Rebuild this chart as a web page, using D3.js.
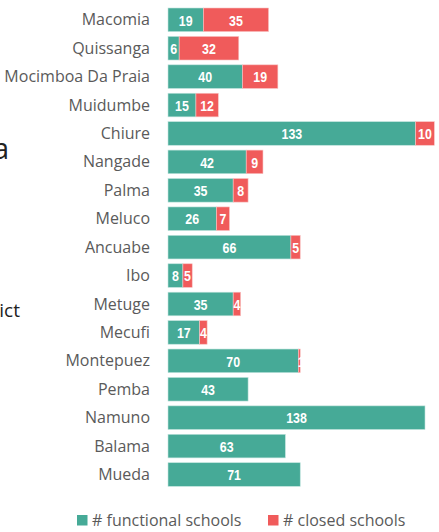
<!DOCTYPE html>
<html><head><meta charset="utf-8">
<script src="https://cdn.jsdelivr.net/npm/d3@7"></script>
<style>html,body{margin:0;padding:0;background:#fff;}svg{display:block;}</style>
</head><body>
<svg id="chart" width="439" height="532"></svg>
<script>
const districts = ["Macomia","Quissanga","Mocimboa Da Praia","Muidumbe","Chiure","Nangade","Palma","Meluco","Ancuabe","Ibo","Metuge","Mecufi","Montepuez","Pemba","Namuno","Balama","Mueda"];
const functional = [19,6,40,15,133,42,35,26,66,8,35,17,70,43,138,63,71];
const closed = [35,32,19,12,10,9,8,7,5,5,4,4,1,0,0,0,0];
const seriesNames = ["# functional schools","# closed schools"];
const colors = ["#46aa97","#f05b5b"];

const svg = d3.select("#chart");
const x = d3.scaleLinear().domain([0,138]).range([168,425]);
const y = d3.scaleBand().domain(districts).range([8,8+28.42*(17-0.17)]).paddingInner(0.17).paddingOuter(0);

const rows = districts.map((d,i)=>({d, f:functional[i], c:closed[i]}));

// cut-off title fragments at left
svg.append("text").attr("x",9).attr("y",159).attr("text-anchor","end")
  .attr("font-family","Open Sans, sans-serif").attr("font-size",29).attr("fill","#222").text("a");
svg.append("text").attr("x",20).attr("y",317).attr("text-anchor","end")
  .attr("font-family","Open Sans, sans-serif").attr("font-size",19).attr("fill","#222").text("ict");

// category labels
svg.append("g").selectAll("text").data(rows).join("text")
  .attr("x",150).attr("y",d=>y(d.d)+y.bandwidth()/2).attr("dy","0.35em")
  .attr("text-anchor","end").attr("font-family","Open Sans, sans-serif").attr("font-size",16)
  .attr("fill","#5a5a5a").text(d=>d.d);

const g = svg.append("g");
g.selectAll("rect.f").data(rows).join("rect").attr("class","f")
  .attr("x",x(0)).attr("y",d=>y(d.d)).attr("width",d=>x(d.f)-x(0)).attr("height",y.bandwidth())
  .attr("fill",colors[0]).attr("stroke","#bfe3dc").attr("stroke-width",0.6);
g.selectAll("rect.c").data(rows.filter(d=>d.c>0)).join("rect").attr("class","c")
  .attr("x",d=>x(d.f)).attr("y",d=>y(d.d)).attr("width",d=>x(d.f+d.c)-x(d.f)).attr("height",y.bandwidth())
  .attr("fill",colors[1]).attr("stroke","#f8c4c4").attr("stroke-width",0.6);

const lblFont = "Liberation Sans, Arial, sans-serif";
const sx = 0.8;
function addLabels(cls, data, cx, val){
  g.selectAll("text."+cls).data(data).join("text").attr("class",cls)
    .attr("transform",d=>`translate(${cx(d)},${y(d.d)+y.bandwidth()/2}) scale(${sx},1)`)
    .attr("dy","0.37em")
    .attr("text-anchor","middle").attr("font-family",lblFont).attr("font-weight","bold")
    .attr("font-size",15.5).attr("fill","#fff").text(val);
}
addLabels("fl", rows, d=>(x(0)+x(d.f))/2, d=>d.f);
addLabels("cl", rows.filter(d=>d.c>0), d=>(x(d.f)+x(d.f+d.c))/2 + (d.c<2?2:0), d=>d.c);

// legend
const legX = [77,268];
const leg = svg.append("g");
seriesNames.forEach((n,i)=>{
  leg.append("rect").attr("x",legX[i]).attr("y",515).attr("width",10.5).attr("height",10.5).attr("fill",colors[i]);
  leg.append("text").attr("x",legX[i]+15).attr("y",520.5).attr("dy","0.35em")
    .attr("font-family","Open Sans, sans-serif").attr("font-size",16).attr("fill","#5a5a5a").text(n);
});
</script>
</body></html>
